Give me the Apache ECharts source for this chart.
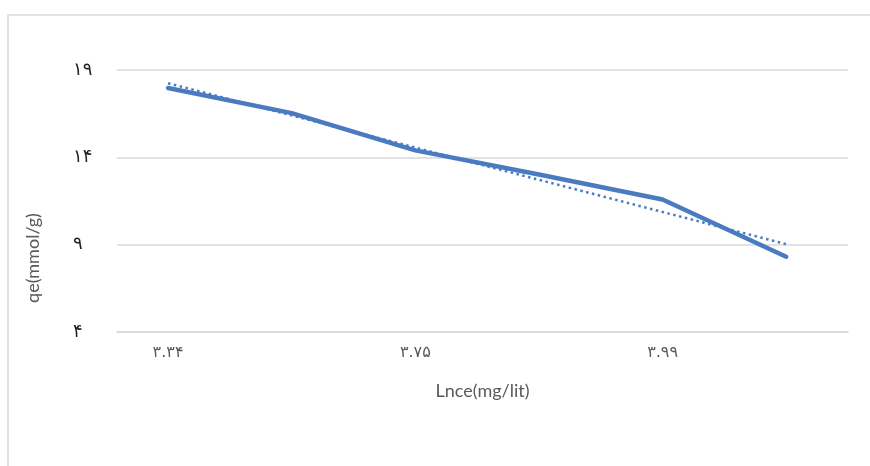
<!DOCTYPE html>
<html>
<head>
<meta charset="utf-8">
<script src="https://cdn.jsdelivr.net/npm/echarts@6/dist/echarts.min.js"></script>
<style>html,body{margin:0;padding:0;background:#fff}#c{width:870px;height:466px}</style>
</head>
<body>
<div id="c"></div>
<script>
// category labels (only every other category is labelled in the reference)
var xLabels = ['۳.۳۴', '', '۳.۷۵', '', '۳.۹۹', ''];
// qe values (mmol/g)
var qeValues = [17.97, 16.53, 14.40, 13.02, 11.59, 8.31];
// y ticks
var yTicks = [4, 9, 14, 19];

var persian = ['۰','۱','۲','۳','۴','۵','۶','۷','۸','۹'];
function toFa(v){ return String(v).replace(/[0-9]/g, function(d){ return persian[+d]; }); }

// linear trendline (least squares) of the series, as Excel draws it
var n = qeValues.length, sx = 0, sy = 0, sxy = 0, sxx = 0;
for (var i = 0; i < n; i++) { sx += i; sy += qeValues[i]; sxy += i * qeValues[i]; sxx += i * i; }
var slope = (n * sxy - sx * sy) / (n * sxx - sx * sx);
var icpt = (sy - slope * sx) / n;
var trend = [[0, icpt], [n - 1, icpt + slope * (n - 1)]];

var mainData = qeValues.map(function(v, i){ return [i, v]; });
var labelIdx = [];
xLabels.forEach(function(l, i){ if (l) labelIdx.push(i); });

var chart = echarts.init(document.getElementById('c'));
chart.setOption({
  animation: false,
  backgroundColor: '#fff',
  grid: { left: 117, right: 22, top: 70, bottom: 134 },
  graphic: [
    { type: 'rect', shape: { x: 8, y: 15, width: 900, height: 500 },
      style: { fill: 'none', stroke: '#d9d9d9', lineWidth: 1.5 }, z: -1 },
    { type: 'text', x: 33, y: 258, rotation: Math.PI / 2,
      style: { text: 'qe(mmol/g)', fill: '#595959', font: '18px Lato', align: 'center', verticalAlign: 'middle' } }
  ],
  xAxis: {
    type: 'value',
    min: -0.413, max: 5.5,
    name: 'Lnce(mg/lit)',
    nameLocation: 'middle',
    nameGap: 50,
    nameTextStyle: { color: '#595959', fontSize: 18, fontFamily: 'Lato' },
    axisLine: { show: true, lineStyle: { color: '#d9d9d9', width: 1.5 } },
    axisTick: { show: false },
    splitLine: { show: false },
    axisLabel: {
      customValues: labelIdx,
      formatter: function(v){ return xLabels[Math.round(v)] || ''; },
      color: '#595959', fontSize: 16, fontFamily: 'DejaVu Sans', margin: 13
    }
  },
  yAxis: {
    type: 'value',
    min: 4, max: 19, interval: 5,
    axisLine: { show: false },
    axisTick: { show: false },
    splitLine: { lineStyle: { color: '#d9d9d9', width: 1.5 } },
    axisLabel: {
      formatter: function(v){ return toFa(v); },
      align: 'left', margin: 44,
      color: '#222', fontSize: 18, fontFamily: 'DejaVu Sans'
    }
  },
  series: [
    { type: 'line', data: mainData, symbol: 'none',
      lineStyle: { color: '#4a7bc0', width: 4.5, cap: 'round', join: 'round' }, z: 3 },
    { type: 'line', data: trend, symbol: 'none',
      lineStyle: { color: '#4a7bc0', width: 2.5, type: [2.5, 3.5] }, z: 4 }
  ]
});
</script>
</body>
</html>
